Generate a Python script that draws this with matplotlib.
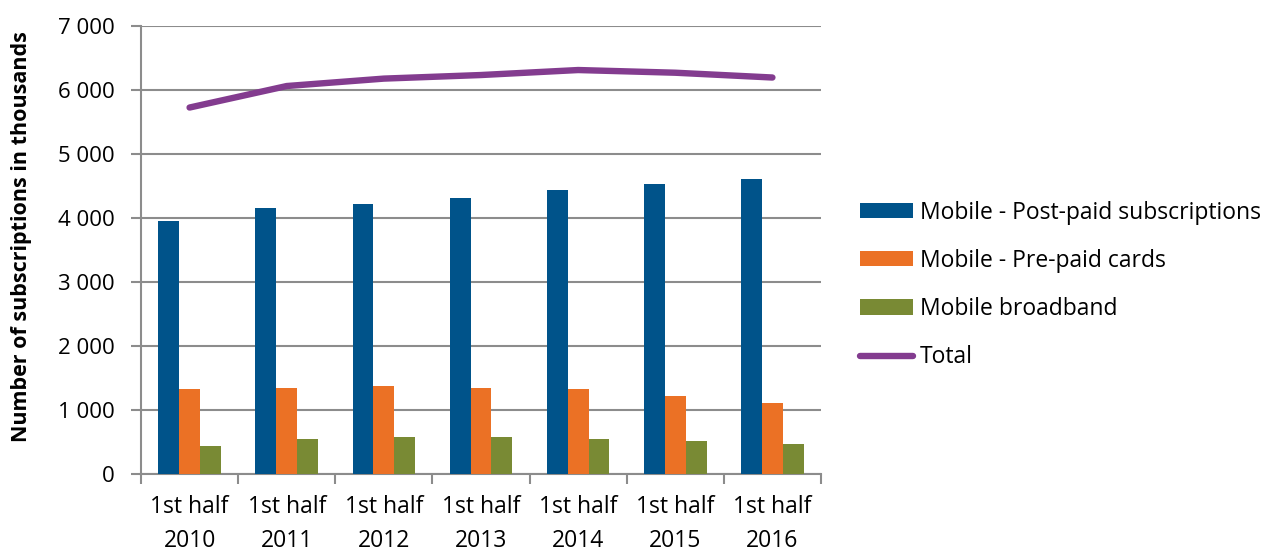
import matplotlib
matplotlib.use("Agg")
import matplotlib.pyplot as plt
import numpy as np
from matplotlib.ticker import FuncFormatter, FixedLocator

plt.rcParams["font.family"] = ["Open Sans", "DejaVu Sans"]

# ── data ──
periods = ["1st half\n2010", "1st half\n2011", "1st half\n2012", "1st half\n2013",
           "1st half\n2014", "1st half\n2015", "1st half\n2016"]
post_paid = [3958, 4162, 4225, 4313, 4433, 4533, 4616]
pre_paid = [1326, 1347, 1379, 1342, 1326, 1226, 1105]
broadband = [442, 553, 574, 579, 553, 511, 474]
total = [5726, 6062, 6178, 6234, 6312, 6270, 6195]

labels = ["Mobile - Post-paid subscriptions", "Mobile - Pre-paid cards", "Mobile broadband", "Total"]
colors = ["#00538A", "#EB7125", "#798A34", "#833C8F"]
grid_c = "#8C8C8C"

W, H = 1269, 552
fig = plt.figure(figsize=(W / 100, H / 100), dpi=100)
ax = fig.add_axes([141 / W, 1 - 474 / H, (821 - 141) / W, (474 - 26) / H])

x = np.arange(len(periods))
w = 0.215
b1 = ax.bar(x - w, post_paid, w, color=colors[0], zorder=3)
b2 = ax.bar(x, pre_paid, w, color=colors[1], zorder=3)
b3 = ax.bar(x + w, broadband, w, color=colors[2], zorder=3)
ln, = ax.plot(x, total, color=colors[3], lw=4.6, solid_capstyle="round", zorder=4)

ax.set_xlim(-0.5, len(periods) - 0.5)
ax.set_ylim(0, 7000)
ax.set_yticks(range(0, 7001, 1000))
ax.yaxis.set_major_formatter(FuncFormatter(lambda v, p: f"{int(v):,}".replace(",", " ")))
ax.set_xticks(x)
ax.set_xticklabels(periods, fontsize=16.5, linespacing=1.55)
ax.xaxis.set_minor_locator(FixedLocator(np.arange(-0.5, len(periods), 1.0)))
ax.tick_params(axis="x", which="major", length=0, pad=15)
ax.tick_params(axis="x", which="minor", length=7, width=1.5, color=grid_c)
ax.tick_params(axis="y", length=7, width=1.5, color=grid_c, labelsize=16, pad=12)

ax.grid(axis="y", color=grid_c, lw=1.5, zorder=0)
for s in ["top", "right"]:
    ax.spines[s].set_visible(False)
for s in ["left", "bottom"]:
    ax.spines[s].set_color(grid_c)
    ax.spines[s].set_linewidth(1.5)

fig.text(22 / W, 1 - 237 / H, "Number of subscriptions in thousands", rotation=90,
         ha="center", va="center", fontsize=15.5, fontweight="bold")

fig.legend([b1, b2, b3, ln], labels, loc="center left", bbox_to_anchor=(860 / W, 1 - 285 / H),
           frameon=False, fontsize=16.5, handlelength=2.3, handleheight=0.65, handletextpad=0.3,
           labelspacing=1.06, borderaxespad=0, borderpad=0)

fig.savefig("out.png", dpi=100)
